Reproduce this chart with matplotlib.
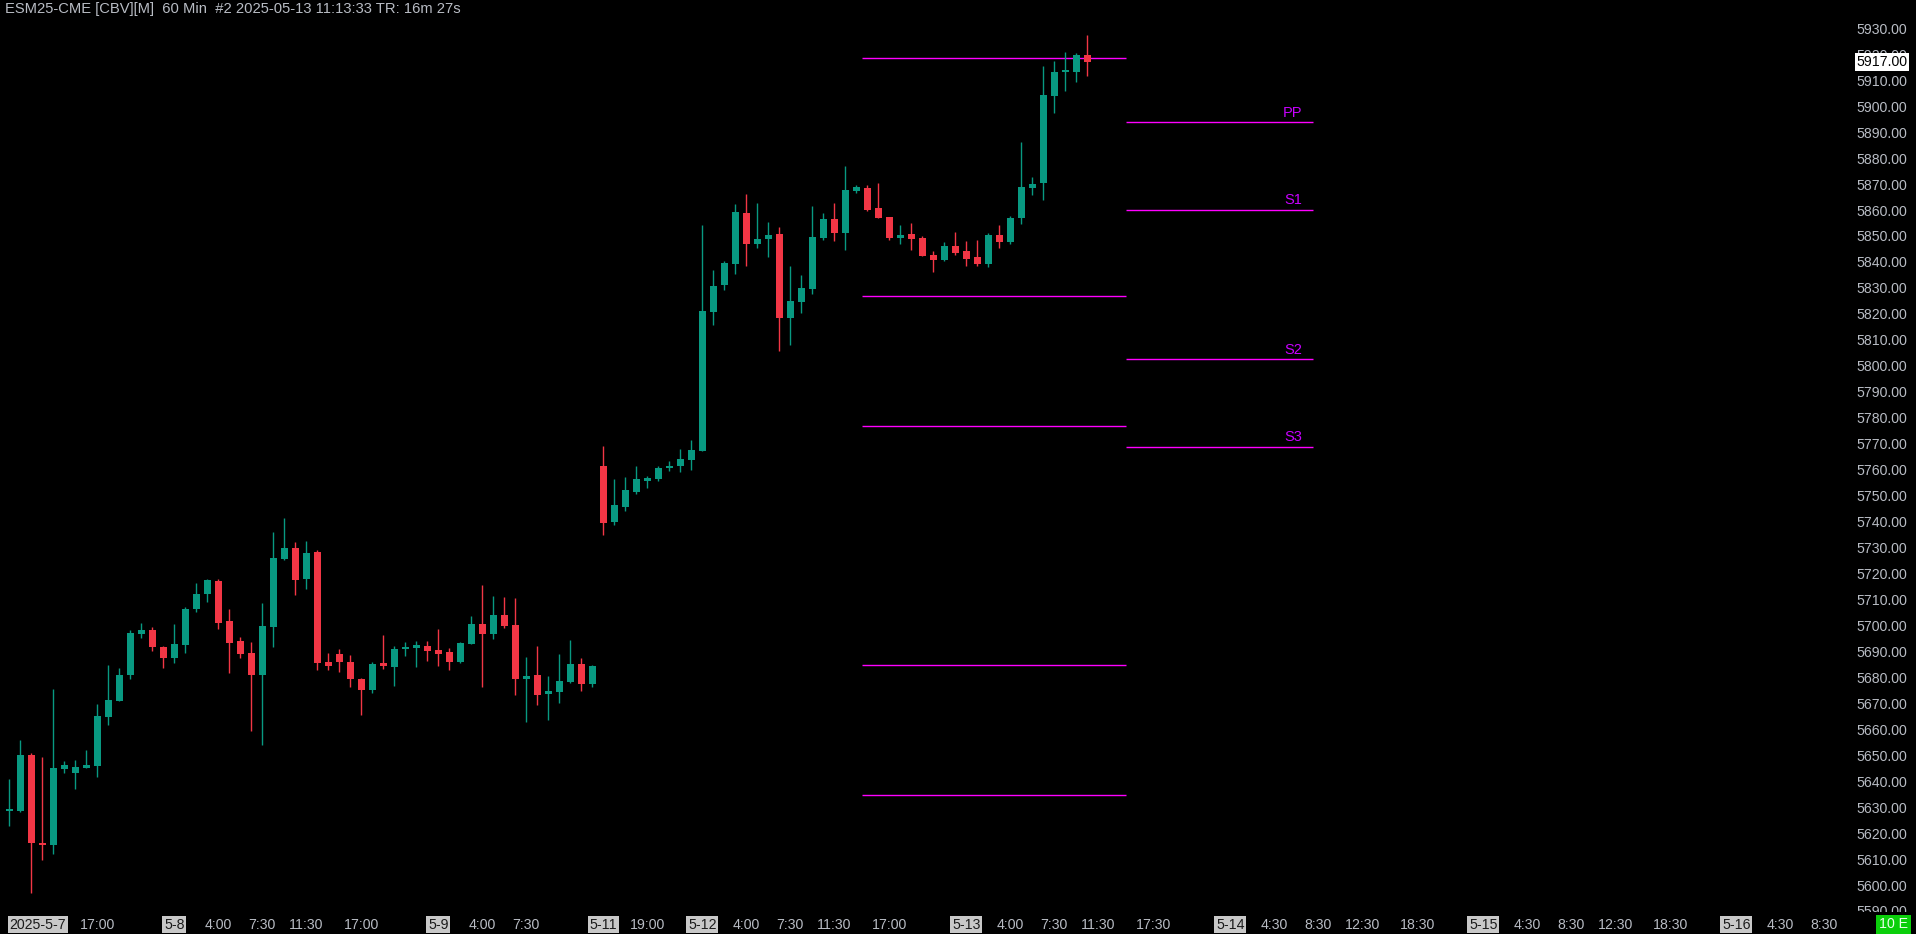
import matplotlib
matplotlib.use("Agg")
import matplotlib.pyplot as plt
from matplotlib.transforms import blended_transform_factory, Bbox, TransformedBbox

plt.rcParams['font.family'] = ['Liberation Sans', 'DejaVu Sans']

# ---------------- data ----------------
title = "ESM25-CME [CBV][M]  60 Min  #2 2025-05-13 11:13:33 TR: 16m 27s"

opens = [5628.5, 5628.5, 5650.0, 5616.25, 5615.5, 5644.75, 5643.25, 5645.25, 5646.0, 5664.75,
         5671.0, 5680.75, 5696.75, 5698.25, 5691.75, 5687.5, 5692.5, 5706.25, 5712.0, 5717.25,
         5701.75, 5694.0, 5689.5, 5681.0, 5699.5, 5725.75, 5729.75, 5718.0, 5728.25, 5685.75,
         5689.0, 5686.0, 5679.5, 5675.0, 5685.5, 5684.0, 5691.0, 5691.25, 5692.0, 5690.5,
         5689.75, 5686.0, 5692.75, 5700.5, 5696.75, 5704.0, 5700.25, 5679.5, 5681.0, 5673.5,
         5674.5, 5678.25, 5685.0, 5677.5, 5761.5, 5740.0, 5745.75, 5751.5, 5755.75, 5756.5,
         5760.5, 5761.5, 5763.75, 5767.25, 5820.75, 5831.0, 5839.25, 5859.0, 5846.75, 5849.0,
         5850.75, 5818.5, 5824.5, 5829.5, 5849.25, 5856.5, 5851.0, 5867.25, 5868.5, 5860.75,
         5857.25, 5849.25, 5850.75, 5849.25, 5842.75, 5840.75, 5846.0, 5844.25, 5842.0, 5839.25,
         5850.5, 5847.5, 5856.75, 5868.5, 5870.25, 5904.0, 5913.0, 5913.0, 5919.75]
highs = [5641.0, 5656.0, 5651.0, 5649.25, 5675.5, 5647.75, 5648.0, 5652.0, 5669.75, 5684.75,
         5683.5, 5698.25, 5700.75, 5699.5, 5692.25, 5700.5, 5707.0, 5716.25, 5718.0, 5718.0,
         5706.25, 5695.5, 5693.5, 5708.5, 5736.0, 5741.5, 5732.0, 5732.5, 5729.0, 5689.5,
         5691.0, 5688.5, 5679.75, 5686.0, 5696.25, 5692.0, 5693.5, 5694.0, 5694.0, 5698.5,
         5691.25, 5693.5, 5703.5, 5715.5, 5711.25, 5711.0, 5710.5, 5687.75, 5692.0, 5680.5,
         5689.0, 5694.5, 5687.5, 5684.75, 5769.0, 5756.5, 5757.25, 5761.5, 5757.5, 5761.5,
         5763.25, 5768.0, 5771.5, 5854.25, 5837.0, 5840.5, 5862.25, 5866.25, 5862.75, 5855.5,
         5853.5, 5838.5, 5835.0, 5861.5, 5859.0, 5862.75, 5877.0, 5869.5, 5869.5, 5870.5,
         5857.25, 5854.25, 5855.0, 5850.0, 5844.25, 5847.75, 5851.5, 5848.0, 5848.5, 5851.0,
         5854.25, 5857.75, 5886.25, 5872.75, 5915.5, 5917.5, 5921.0, 5920.5, 5927.5]
lows = [5622.75, 5628.0, 5596.75, 5609.75, 5611.75, 5643.25, 5637.0, 5645.25, 5641.75, 5661.75,
        5671.0, 5679.5, 5695.0, 5690.0, 5683.75, 5685.5, 5689.5, 5705.0, 5709.0, 5698.75,
        5681.75, 5687.5, 5659.5, 5653.75, 5691.75, 5725.0, 5711.75, 5714.0, 5682.75, 5682.75,
        5682.0, 5676.25, 5665.5, 5674.0, 5683.25, 5676.75, 5688.25, 5684.0, 5686.25, 5684.5,
        5682.75, 5685.5, 5692.75, 5676.25, 5694.75, 5699.0, 5673.25, 5662.75, 5669.25, 5663.5,
        5670.0, 5677.75, 5674.75, 5676.25, 5735.0, 5738.5, 5744.25, 5750.75, 5753.0, 5755.75,
        5759.5, 5759.25, 5760.0, 5767.0, 5815.75, 5829.25, 5835.5, 5838.5, 5845.5, 5842.0,
        5805.75, 5808.0, 5820.5, 5827.5, 5848.5, 5848.0, 5844.5, 5866.5, 5859.5, 5857.0,
        5848.5, 5847.0, 5844.5, 5842.25, 5836.0, 5840.5, 5842.75, 5838.5, 5838.5, 5838.0,
        5845.5, 5847.0, 5854.75, 5865.75, 5864.0, 5897.5, 5906.0, 5909.5, 5911.5]
closes = [5628.75, 5650.0, 5616.25, 5615.25, 5645.0, 5646.25, 5645.5, 5646.25, 5665.0, 5671.25,
          5681.0, 5697.0, 5698.25, 5691.75, 5687.5, 5692.75, 5706.25, 5712.0, 5717.5, 5701.0,
          5693.25, 5689.0, 5681.0, 5699.75, 5726.0, 5729.75, 5717.5, 5728.0, 5685.5, 5684.5,
          5686.0, 5679.5, 5675.0, 5685.0, 5684.5, 5691.0, 5691.75, 5692.5, 5690.0, 5689.0,
          5686.0, 5693.25, 5700.5, 5696.75, 5704.0, 5699.75, 5679.5, 5680.5, 5673.25, 5674.75,
          5678.5, 5685.0, 5677.5, 5684.5, 5739.5, 5746.5, 5752.25, 5756.5, 5756.75, 5760.5,
          5761.5, 5764.0, 5767.5, 5821.0, 5830.75, 5839.5, 5859.25, 5846.75, 5848.75, 5850.5,
          5818.5, 5825.0, 5830.0, 5849.5, 5856.5, 5851.0, 5867.75, 5869.0, 5860.0, 5857.0,
          5849.25, 5850.5, 5848.75, 5842.25, 5840.75, 5846.0, 5843.5, 5841.0, 5839.25, 5850.5,
          5847.5, 5857.0, 5869.0, 5870.0, 5904.25, 5913.25, 5913.25, 5919.75, 5917.0]

# session time labels (bar index of each label) and text
tick_bars = [2.6, 8, 15, 19, 23, 27, 32, 39, 43, 47, 54, 58, 63, 67, 71, 75, 80, 87, 91, 95,
             99, 104, 111, 115, 119, 123, 128, 134, 138, 142, 146, 151, 157, 161, 165]
tick_labels = ['2025-5-7', '17:00', '5-8', '4:00', '7:30', '11:30', '17:00', '5-9', '4:00', '7:30',
               '5-11', '19:00', '5-12', '4:00', '7:30', '11:30', '17:00', '5-13', '4:00', '7:30',
               '11:30', '17:30', '5-14', '4:30', '8:30', '12:30', '18:30', '5-15', '4:30', '8:30',
               '12:30', '18:30', '5-16', '4:30', '8:30']

# pivot levels
prior_levels = [5918.75, 5826.75, 5776.75, 5684.75, 5634.75]
pivot_names = ['PP', 'S1', 'S2', 'S3']
pivot_levels = [5893.75, 5860.0, 5802.5, 5768.75]
prior_span = (77.5, 101.5)
pivot_span = (101.5, 118.5)

price_ticks = list(range(5590, 5931, 10))
last_price = 5917.00

# ---------------- styling ----------------
W, H = 1916, 934
BG = 'black'
UP = '#089981'
DN = '#f23645'
AXTXT = '#b8bcc4'
PIV = '#ff00ff'
PIVTXT = '#c800ff'
FS = 10.2

fig = plt.figure(figsize=(W / 100, H / 100), dpi=100, facecolor=BG)
ax = fig.add_axes([0, 22 / H, 1845 / W, 912 / H])
ax.set_facecolor(BG)
ax.set_xlim(-0.845, 166.88)
ax.set_ylim(5589.6, 5940.9)
for s in ax.spines.values():
    s.set_visible(False)

idx = list(range(len(opens)))
cols = [UP if c >= o else DN for o, c in zip(opens, closes)]
ax.vlines(idx, lows, highs, colors=cols, linewidth=1.0, zorder=2)
bottoms = [min(o, c) for o, c in zip(opens, closes)]
heights = [max(abs(c - o), 0.8) for o, c in zip(opens, closes)]
ax.bar(idx, heights, bottom=bottoms, width=0.64, color=cols, linewidth=0, zorder=3)

# pivot lines
ax.hlines(prior_levels, prior_span[0], prior_span[1], colors=PIV, linewidth=1.0, zorder=1)
ax.hlines(pivot_levels, pivot_span[0], pivot_span[1], colors=PIV, linewidth=1.0, zorder=1)
for name, lv in zip(pivot_names, pivot_levels):
    ax.text(pivot_span[1] - 0.95, lv + 1.0, name, color=PIVTXT, fontsize=10.5,
            ha='right', va='bottom', zorder=4)

# y axis (right)
ax.yaxis.tick_right()
ax.set_yticks(price_ticks, [f'{v:.2f}' for v in price_ticks])
ax.tick_params(axis='y', length=0, pad=8, labelsize=FS, labelcolor=AXTXT)
clipbox = TransformedBbox(Bbox([[0, 22 / H], [1, 1]]), fig.transFigure)
for lab in ax.get_yticklabels():
    lab.set_clip_on(True)
    lab.set_clip_box(clipbox)

# x axis
ax.set_xticks(tick_bars, tick_labels)
ax.tick_params(axis='x', length=0, pad=4.0, labelsize=FS, labelcolor=AXTXT)
for lab in ax.get_xticklabels():
    if '-' in lab.get_text():
        lab.set_color('#1a1a1a')
        lab.set_bbox(dict(boxstyle='square,pad=0.12', fc='#c8c8c8', ec='none'))

# current price marker
tr = blended_transform_factory(ax.transAxes, ax.transData)
ax.text(1 + 11.5 / 1845, last_price, f'{last_price:.2f}', transform=tr, ha='left', va='center',
        fontsize=FS, color='black', clip_on=False, zorder=10,
        bbox=dict(boxstyle='square,pad=0.12', fc='white', ec='none'))

# title
fig.text(5 / W, 1 - 1.5 / H, title, ha='left', va='top', fontsize=10.65, color=AXTXT)

# bottom-right badge
fig.text(1879 / W, 2.5 / H, '10 E', ha='left', va='bottom', fontsize=FS, color='#e8ffe8',
         bbox=dict(boxstyle='square,pad=0.2', fc='#0bcf0b', ec='none'))

fig.savefig('out.png', dpi=100, facecolor=BG)
